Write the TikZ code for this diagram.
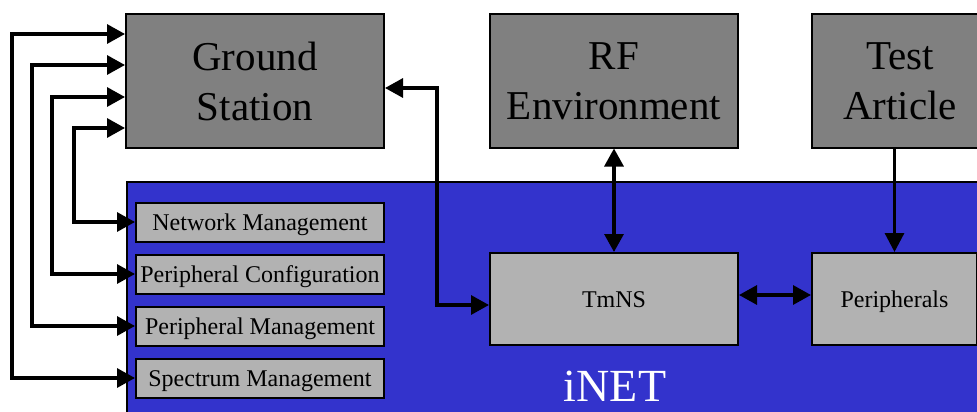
\documentclass[tikz,border=0pt]{standalone}
\usepackage{fontspec}
\setmainfont{Liberation Serif}
\usetikzlibrary{arrows.meta, positioning}
\definecolor{outergray}{HTML}{808080}
\definecolor{innergray}{HTML}{B2B2B2}
\definecolor{inetblue}{HTML}{3333CC}
\tikzset{%
	outer/.style={draw, line width=2pt, rectangle, fill=outergray, inner sep=0pt,%
		minimum height=133pt, align=center, font=\fontsize{41}{50}\selectfont},
	inner/.style={draw, line width=2pt, rectangle, fill=innergray, inner sep=0pt,%
		text height=16pt, text depth=0pt, font=\fontsize{24}{28}\selectfont},
	func/.style={inner, minimum width=248pt, minimum height=39pt},
	unit/.style={inner, minimum height=92pt},
	inet/.style={draw, line width=2pt, rectangle, fill=inetblue, inner sep=0pt},
	link/.style={-{Triangle[length=19pt,width=19pt]}, line width=3.2pt},
	dlink/.style={{Triangle[length=18pt,width=19pt]}-{Triangle[length=18pt,width=19pt]}, line width=3.2pt}
}
\begin{document}
\begin{tikzpicture}[x=1pt, y=-1pt]
	\useasboundingbox (0,0) rectangle (977,412);
	\node[inet, anchor=north west, minimum width=870pt, minimum height=240pt] (net) at (126,181) {};
	\node[text=white, anchor=base, font=\fontsize{46}{50}\selectfont] (netlbl) at (615,401) {iNET};

	\node[outer, minimum width=258pt] (gs) at (255,81) {Ground\\Station};
	\node[outer, minimum width=248pt] (rf) at (614,81) {RF\\Environment};
	\node[outer, minimum width=176pt] (ta) at (900,81) {Test\\Article};

	\node[func] (nm) at (260,222) {Network Management};
	\node[func] (pc) at (260,274) {Peripheral Configuration};
	\node[func] (pm) at (260,326) {Peripheral Management};
	\node[func] (sm) at (260,378) {Spectrum Management};

	\node[unit, minimum width=248pt] (tmns) at (614,299) {TmNS};
	\node[unit, minimum width=165pt] (per) at (894.5,299) {Peripherals};

	\draw[dlink] (sm.west) -| (12,34) -- (gs.west |- 0,34);
	\draw[dlink] (pm.west) -| (32,65) -- (gs.west |- 0,65);
	\draw[dlink] (pc.west) -| (52,97) -- (gs.west |- 0,97);
	\draw[dlink] (nm.west) -| (74,128) -- (gs.west |- 0,128);

	\draw[dlink] (gs.east |- 0,88) -| (437,305) -- (tmns.west |- 0,305);
	\draw[dlink] (rf) -- (tmns);
	\draw[link] (ta.south -| per.north) -- (per.north);
	\draw[dlink] (tmns.east |- 0,295) -- (per.west |- 0,295);
\end{tikzpicture}
\end{document}
